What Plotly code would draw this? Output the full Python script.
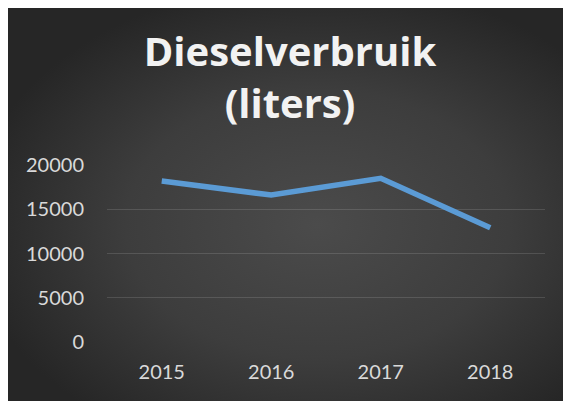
import base64
import plotly.graph_objects as go

years = ["2015", "2016", "2017", "2018"]
diesel_liters = [18200, 16600, 18500, 12900]
y_ticks = [0, 5000, 10000, 15000, 20000]
y_tick_labels = ["0", "5000", "10000", "15000", "20000"]
title_text = "Dieselverbruik<br>(liters)"

# page has an 8px body margin; figure fills the rest of the 571x401 window
W, H = 563, 393
ML, MR, MT, MB = 99, 26, 157, 59
PW, PH = W - ML - MR, H - MT - MB

def px_to_paper_x(px):
    return (px - ML) / PW

def px_to_paper_y(py):
    return (H - MB - py) / PH

svg = (
    '<svg xmlns="http://www.w3.org/2000/svg" width="563" height="393" '
    'viewBox="0 0 563 393" preserveAspectRatio="none">'
    '<defs><radialGradient id="g" cx="55%" cy="55%" r="62%">'
    '<stop offset="0" stop-color="#4b4b4b"/>'
    '<stop offset="0.55" stop-color="#3d3d3d"/>'
    '<stop offset="1" stop-color="#262626"/>'
    '</radialGradient></defs>'
    '<rect x="0" y="0" width="563" height="393" fill="url(#g)"/></svg>'
)
svg_uri = "data:image/svg+xml;base64," + base64.b64encode(svg.encode()).decode()

fig = go.Figure()
fig.add_trace(go.Scatter(
    x=years, y=diesel_liters, mode="lines",
    line=dict(color="#5B9BD5", width=5.5),
    hoverinfo="skip", showlegend=False,
))

x0, x1 = px_to_paper_x(0), px_to_paper_x(W)
y0, y1 = px_to_paper_y(H), px_to_paper_y(0)

fig.update_layout(
    width=W, height=H,
    margin=dict(l=ML, r=MR, t=MT, b=MB, autoexpand=False),
    paper_bgcolor="#333333",
    plot_bgcolor="rgba(0,0,0,0)",
    title=dict(
        text=title_text,
        x=282 / W, xanchor="center",
        y=1 - 58 / H, yanchor="top",
        font=dict(family="Open Sans", size=40, color="#f2f2f2", weight="bold"),
        automargin=False,
    ),
    images=[dict(
        source=svg_uri, xref="paper", yref="paper",
        x=x0, y=y1, sizex=x1 - x0, sizey=y1 - y0,
        xanchor="left", yanchor="top", sizing="stretch", layer="below",
    )],
    xaxis=dict(
        type="category", range=[-0.5, 3.5],
        showgrid=False, zeroline=False, showline=False, ticks="",
        tickfont=dict(family="Lato", size=20, color="#d9d9d9"),
        ticklabelstandoff=16, automargin=False,
    ),
    yaxis=dict(
        range=[0, 20000], tickvals=y_ticks, ticktext=y_tick_labels,
        showgrid=True, gridcolor="rgba(255,255,255,0.13)", gridwidth=1,
        zeroline=False, showline=False, ticks="",
        tickfont=dict(family="Lato", size=20, color="#d9d9d9"),
        ticklabelstandoff=22, automargin=False,
    ),
)
fig.write_html("out.html")
